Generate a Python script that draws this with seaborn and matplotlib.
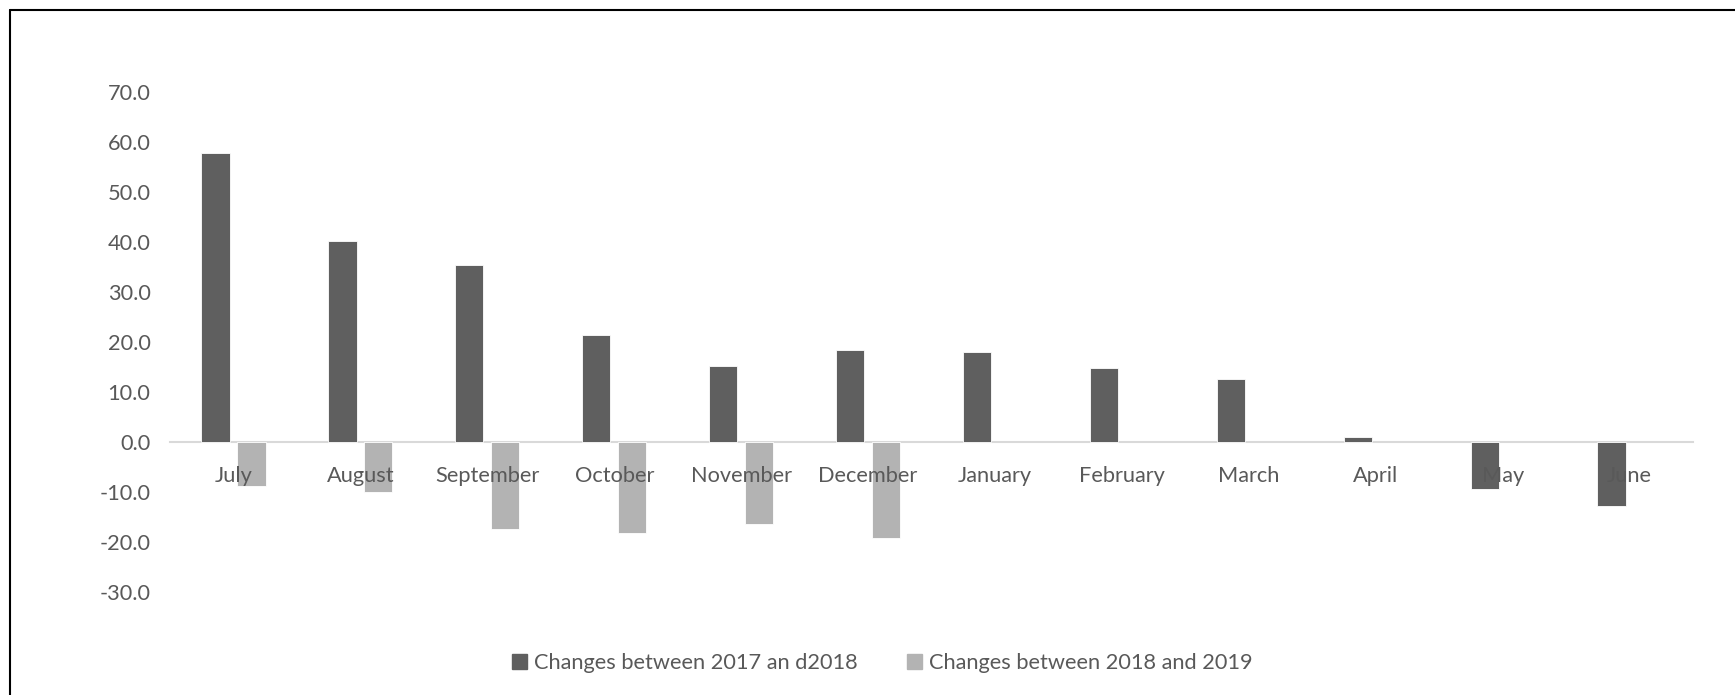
import numpy as np
import pandas as pd
import matplotlib
matplotlib.use("Agg")
import matplotlib.pyplot as plt
from matplotlib.lines import Line2D
import seaborn as sns

# Monthly changes, July through June
months = ["July", "August", "September", "October", "November", "December",
          "January", "February", "March", "April", "May", "June"]
change_2017_2018 = [57.8, 40.3, 35.4, 21.4, 15.2, 18.5,
                    18.1, 14.9, 12.7, 1.1, -9.4, -12.8]
change_2018_2019 = [-8.7, -9.9, -17.3, -18.1, -16.4, -19.1,
                    np.nan, np.nan, np.nan, np.nan, np.nan, np.nan]
series_names = ["Changes between 2017 an d2018", "Changes between 2018 and 2019"]
y_ticks = [-30, -20, -10, 0, 10, 20, 30, 40, 50, 60, 70]

df = pd.DataFrame({
    "month": months * 2,
    "change": change_2017_2018 + change_2018_2019,
    "series": [series_names[0]] * len(months) + [series_names[1]] * len(months),
})

sns.set_theme(style="white")
plt.rcParams["font.family"] = ["Lato", "DejaVu Sans"]

text_color = "#595959"
font_size = 15.7
colors = {series_names[0]: "#5f5f5f", series_names[1]: "#b3b3b3"}

fig = plt.figure(figsize=(17.35, 6.95), dpi=100)
ax = fig.add_axes([170 / 1735, 103 / 695, (1693 - 170) / 1735, 500 / 695])

sns.barplot(data=df, x="month", y="change", hue="series", order=months,
            hue_order=series_names, palette=colors, width=0.566, gap=0.214,
            edgecolor="white", linewidth=0.6, ax=ax, legend=False)

ax.set_ylim(-30, 70)
ax.set_xlim(-0.5, len(months) - 0.5)
ax.set_yticks(y_ticks)
ax.set_yticklabels([f"{v:.1f}" for v in y_ticks])
ax.set_xlabel("")
ax.set_ylabel("")

for side in ["top", "right", "left"]:
    ax.spines[side].set_visible(False)
ax.spines["bottom"].set_position(("data", 0))
ax.spines["bottom"].set_color("#d9d9d9")
ax.spines["bottom"].set_linewidth(1.5)
ax.spines["bottom"].set_zorder(0.5)

ax.tick_params(axis="y", length=0, pad=14, labelsize=font_size, labelcolor=text_color)
ax.tick_params(axis="x", length=0, pad=17, labelsize=font_size, labelcolor=text_color)
# Month names sit on top of the bars
ax.xaxis.set_zorder(5)

handles = [plt.Rectangle((0, 0), 1, 1, color=colors[s]) for s in series_names]
fig.legend(handles, series_names, loc="center", bbox_to_anchor=(882 / 1735, 1 - 663 / 695),
           ncol=2, frameon=False, fontsize=font_size, labelcolor=text_color,
           handlelength=0.72, handleheight=0.72, handletextpad=0.3,
           columnspacing=2.25)

# Chart frame (left and top edges)
fig.add_artist(Line2D([9.5 / 1735, 9.5 / 1735], [0, 1 - 9.5 / 695],
                      transform=fig.transFigure, color="black", linewidth=1.5))
fig.add_artist(Line2D([9.5 / 1735, 1], [1 - 9.5 / 695, 1 - 9.5 / 695],
                      transform=fig.transFigure, color="black", linewidth=1.5))

fig.savefig("out.png", dpi=100)
